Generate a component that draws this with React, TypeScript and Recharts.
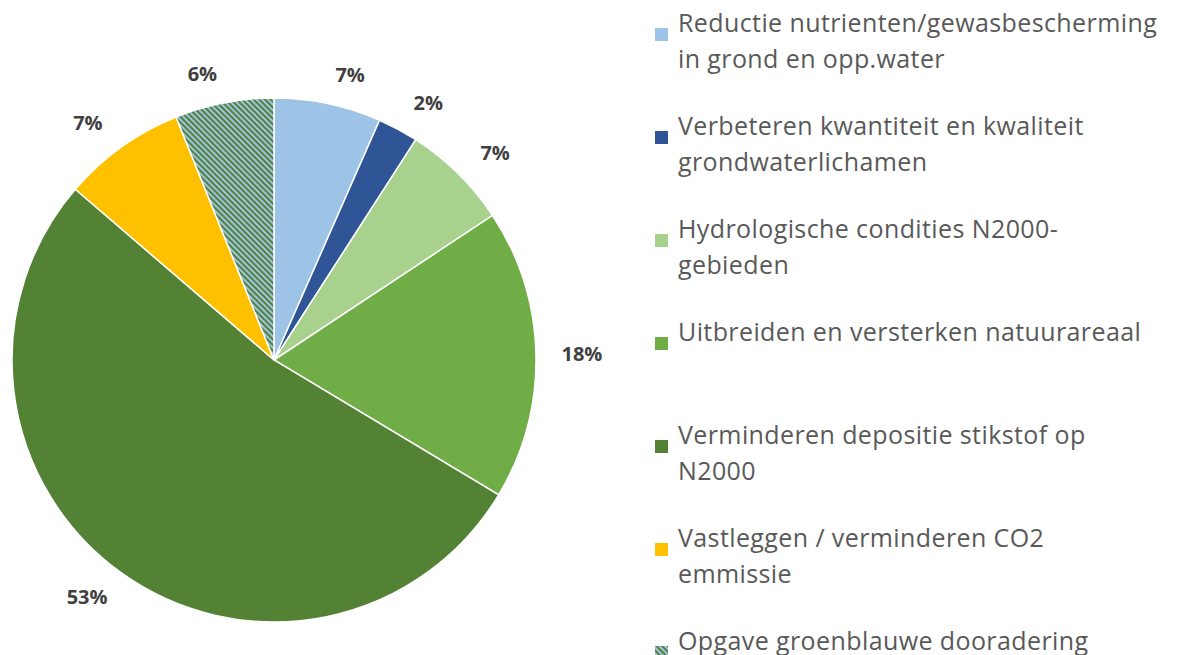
import { Cell, Legend, Pie, PieChart } from 'recharts';

const categories = [
  'Reductie nutrienten/gewasbescherming in grond en opp.water',
  'Verbeteren kwantiteit en kwaliteit grondwaterlichamen',
  'Hydrologische condities N2000-gebieden',
  'Uitbreiden en versterken natuurareaal',
  'Verminderen depositie stikstof op N2000',
  'Vastleggen / verminderen CO2 emmissie',
  'Opgave groenblauwe dooradering',
];

const legendLines = [
  ['Reductie nutrienten/gewasbescherming', 'in grond en opp.water'],
  ['Verbeteren kwantiteit en kwaliteit', 'grondwaterlichamen'],
  ['Hydrologische condities N2000-', 'gebieden'],
  ['Uitbreiden en versterken natuurareaal'],
  ['Verminderen depositie stikstof op', 'N2000'],
  ['Vastleggen / verminderen CO2', 'emmissie'],
  ['Opgave groenblauwe dooradering'],
];

const shares = [6.6, 2.5, 6.6, 17.9, 52.7, 7.6, 6.1];
const percentLabels = ['7%', '2%', '7%', '18%', '53%', '7%', '6%'];

const colors = ['#9DC3E6', '#2F5597', '#A9D18E', '#70AD47', '#548235', '#FFC000', 'url(#hatch)'];

const data = categories.map((name, i) => ({ name, value: shares[i], label: percentLabels[i] }));

const RADIAN = Math.PI / 180;

function renderLabel(props: any) {
  const { cx, cy, midAngle, outerRadius, index } = props;
  const cos = Math.cos(-midAngle * RADIAN);
  const sin = Math.sin(-midAngle * RADIAN);
  const r = outerRadius + 30;
  // push label out sideways by about half its width
  const x = cx + r * cos + Math.sign(cos) * 16;
  const y = cy + r * sin;
  return (
    <text
      x={x}
      y={y}
      textAnchor="middle"
      dominantBaseline="central"
      fill="#404040"
      fontSize={20}
      fontWeight="bold"
      fontFamily="'Open Sans', sans-serif"
    >
      {percentLabels[index]}
    </text>
  );
}

function LegendContent() {
  return (
    <div style={{ fontFamily: "'Open Sans', sans-serif", color: '#595959', fontSize: 25, letterSpacing: 0.4 }}>
      {legendLines.map((lines, i) => (
        <div key={i} style={{ height: 103, display: 'flex', alignItems: 'flex-start' }}>
          <svg width={13} height={13} style={{ marginTop: 12, marginRight: 10, flexShrink: 0 }}>
            <rect width={13} height={13} fill={colors[i]} />
          </svg>
          <div style={{ lineHeight: '36px', marginTop: -12, whiteSpace: 'nowrap' }}>
            {lines.map((l) => (
              <div key={l}>{l}</div>
            ))}
          </div>
        </div>
      ))}
    </div>
  );
}

export default function App() {
  return (
    <div style={{ position: 'absolute', left: 0, top: 0, background: '#fff' }}>
      <PieChart width={1178} height={655} margin={{ top: 0, right: 0, bottom: 0, left: 0 }}>
        <defs>
          <pattern id="hatch" width={4} height={4} patternUnits="userSpaceOnUse" patternTransform="rotate(-45)">
            <rect width={4} height={4} fill="#9DC3E6" />
            <rect width={2} height={4} fill="#548235" />
          </pattern>
        </defs>
        <Pie
          data={data}
          dataKey="value"
          nameKey="name"
          cx={274}
          cy={360}
          outerRadius={262}
          startAngle={90}
          endAngle={-270}
          stroke="#ffffff"
          strokeWidth={1.5}
          label={renderLabel}
          labelLine={false}
          isAnimationActive={false}
        >
          {data.map((d, i) => (
            <Cell key={d.name} fill={colors[i]} />
          ))}
        </Pie>
        <Legend
          layout="vertical"
          align="right"
          verticalAlign="top"
          content={<LegendContent />}
          wrapperStyle={{ left: 655, top: 16, width: 523 }}
        />
      </PieChart>
    </div>
  );
}
